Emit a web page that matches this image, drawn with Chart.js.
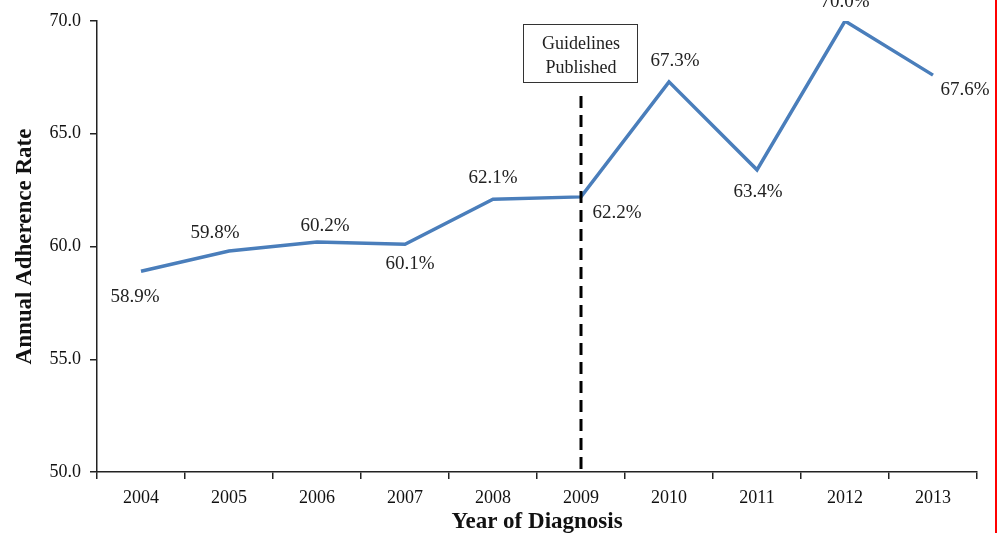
<!DOCTYPE html>
<html>
<head>
<meta charset="utf-8">
<script src="https://cdn.jsdelivr.net/npm/chart.js@4"></script>
<style>
    body { margin: 0; background: #fff; }
    #wrap { width: 999px; height: 533px; position: relative; }
</style>
</head>
<body>
<div id="wrap"><canvas id="chart"></canvas></div>
<script>
const years = ['2004', '2005', '2006', '2007', '2008', '2009', '2010', '2011', '2012', '2013'];
const adherence = [58.9, 59.8, 60.2, 60.1, 62.1, 62.2, 67.3, 63.4, 70.0, 67.6];
const yTicks = [50, 55, 60, 65, 70];
const markerYear = '2009';
const markerText = ['Guidelines', 'Published'];

const serif = '"Liberation Serif", "Times New Roman", serif';

// hand-placed label nudges (px from each point), like the original
const labelNudge = [
    [-6, 26], [-14, -18], [8, -16], [5, 20], [0, -21],
    [36, 16], [6, -21], [1, 22], [0, -19], [32, 15]
];

// value labels, the 2009 marker and the red edge line
const extras = {
    id: 'extras',
    afterDatasetsDraw(chart) {
        const ctx = chart.ctx;
        const x = chart.scales.x;
        const y = chart.scales.y;
        const points = chart.getDatasetMeta(0).data;

        ctx.save();
        ctx.fillStyle = '#222';
        ctx.font = '19px ' + serif;
        ctx.textAlign = 'center';
        ctx.textBaseline = 'middle';
        points.forEach(function (p, i) {
            const text = adherence[i].toFixed(1) + '%';
            ctx.fillText(text, p.x + labelNudge[i][0], p.y + labelNudge[i][1]);
        });

        // dashed marker line
        const mx = Math.round(x.getPixelForValue(years.indexOf(markerYear)));
        ctx.strokeStyle = '#000';
        ctx.lineWidth = 3;
        ctx.setLineDash([12, 7]);
        ctx.beginPath();
        ctx.moveTo(mx, 96);
        ctx.lineTo(mx, y.bottom);
        ctx.stroke();
        ctx.setLineDash([]);

        // annotation box
        ctx.lineWidth = 1;
        ctx.strokeStyle = '#333';
        ctx.strokeRect(mx - 57.5, 24.5, 114, 58);
        ctx.font = '18px ' + serif;
        ctx.fillText(markerText[0], mx, 44);
        ctx.fillText(markerText[1], mx, 68);

        ctx.fillStyle = '#ff0000';
        ctx.fillRect(995, 0, 2, chart.height);
        ctx.restore();
    }
};

new Chart(document.getElementById('chart'), {
    type: 'line',
    data: {
        labels: years,
        datasets: [{
            data: adherence,
            borderColor: '#4a7ebb',
            borderWidth: 3.5,
            pointRadius: 0,
            tension: 0,
            fill: false
        }]
    },
    options: {
        responsive: true,
        maintainAspectRatio: false,
        animation: false,
        events: [],
        layout: { padding: { top: 21, right: 22, left: 0, bottom: 0 } },
        plugins: {
            legend: { display: false },
            tooltip: { enabled: false }
        },
        scales: {
            x: {
                offset: true,
                grid: {
                    offset: true,
                    drawOnChartArea: false,
                    drawTicks: true,
                    tickLength: 7,
                    color: '#222',
                    lineWidth: 1.5
                },
                border: { color: '#222', width: 1.5 },
                ticks: {
                    color: '#111',
                    font: { family: serif, size: 18 },
                    padding: 8,
                    maxRotation: 0
                },
                title: {
                    display: true,
                    text: 'Year of Diagnosis',
                    color: '#111',
                    font: { family: serif, size: 23, weight: 'bold' },
                    padding: { top: 0, bottom: -3 }
                },
                afterFit(scale) { scale.height = 61; }
            },
            y: {
                min: 50,
                max: 70,
                afterBuildTicks(scale) {
                    scale.ticks = yTicks.map(function (v) { return { value: v }; });
                },
                grid: {
                    drawOnChartArea: false,
                    drawTicks: true,
                    tickLength: 7,
                    color: '#222',
                    lineWidth: 1.5
                },
                border: { color: '#222', width: 1.5 },
                ticks: {
                    color: '#111',
                    font: { family: serif, size: 18 },
                    padding: 9,
                    callback: function (v) { return Number(v).toFixed(1); }
                },
                title: {
                    display: true,
                    text: 'Annual Adherence Rate',
                    color: '#111',
                    font: { family: serif, size: 23, weight: 'bold' },
                    padding: { top: 11, bottom: 0 }
                },
                afterFit(scale) { scale.width = 97; }
            }
        }
    },
    plugins: [extras]
});
</script>
</body>
</html>
